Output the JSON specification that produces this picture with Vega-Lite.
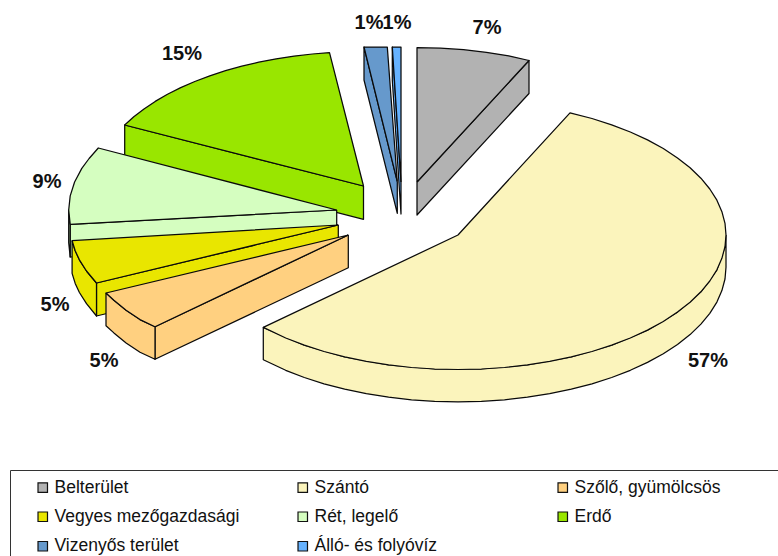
{
"$schema":"https://vega.github.io/schema/vega-lite/v6.json",
"width":778,"height":556,"padding":0,"autosize":{"type":"none"},"background":"white",
"config":{"view":{"stroke":null},"legend":{"gridAlign":"all"}},
"datasets":{
"szeletek":[
{"kat":"Erdő","r":"e1","i":1,"x":363.5,"y":186},{"kat":"Erdő","r":"e1","i":2,"x":124.7,"y":125},{"kat":"Erdő","r":"e1","i":3,"x":124.7,"y":158},{"kat":"Erdő","r":"e1","i":4,"x":363.5,"y":219.3},{"kat":"Erdő","r":"e1","i":5,"x":363.5,"y":186},
{"kat":"Erdő","r":"e2","i":1,"x":363.5,"y":186},{"kat":"Erdő","r":"e2","i":2,"x":124.7,"y":125},{"kat":"Erdő","r":"e2","i":3,"x":144,"y":108.9},{"kat":"Erdő","r":"e2","i":4,"x":167.5,"y":94.3},{"kat":"Erdő","r":"e2","i":5,"x":194.8,"y":81.5},{"kat":"Erdő","r":"e2","i":6,"x":225.5,"y":70.7},{"kat":"Erdő","r":"e2","i":7,"x":258.8,"y":62.2},{"kat":"Erdő","r":"e2","i":8,"x":294.1,"y":56.1},{"kat":"Erdő","r":"e2","i":9,"x":329.5,"y":52.6},{"kat":"Erdő","r":"e2","i":10,"x":363.5,"y":186},
{"kat":"Erdő","r":"e2","i":2.5,"x":133.8,"y":116.7},{"kat":"Erdő","r":"e2","i":3.5,"x":155.2,"y":101.4},{"kat":"Erdő","r":"e2","i":4.5,"x":180.7,"y":87.6},{"kat":"Erdő","r":"e2","i":5.5,"x":209.8,"y":75.8},{"kat":"Erdő","r":"e2","i":6.5,"x":241.8,"y":66.2},{"kat":"Erdő","r":"e2","i":7.5,"x":276.2,"y":58.8},{"kat":"Erdő","r":"e2","i":8.5,"x":312.4,"y":54},

{"kat":"Vizenyős terület","r":"v1","i":1,"x":397.3,"y":181.7},{"kat":"Vizenyős terület","r":"v1","i":2,"x":364,"y":47},{"kat":"Vizenyős terület","r":"v1","i":3,"x":364,"y":80},{"kat":"Vizenyős terület","r":"v1","i":4,"x":397.3,"y":213.3},{"kat":"Vizenyős terület","r":"v1","i":5,"x":397.3,"y":181.7},
{"kat":"Vizenyős terület","r":"v2","i":1,"x":397.3,"y":181.7},{"kat":"Vizenyős terület","r":"v2","i":2,"x":364,"y":47},{"kat":"Vizenyős terület","r":"v2","i":3,"x":375.5,"y":47},{"kat":"Vizenyős terület","r":"v2","i":4,"x":387.3,"y":47},{"kat":"Vizenyős terület","r":"v2","i":5,"x":397.3,"y":181.7},

{"kat":"Álló- és folyóvíz","r":"a1","i":1,"x":401,"y":182},{"kat":"Álló- és folyóvíz","r":"a1","i":2,"x":392.3,"y":47},{"kat":"Álló- és folyóvíz","r":"a1","i":3,"x":392.3,"y":80},{"kat":"Álló- és folyóvíz","r":"a1","i":4,"x":401,"y":214},{"kat":"Álló- és folyóvíz","r":"a1","i":5,"x":401,"y":182},
{"kat":"Álló- és folyóvíz","r":"a2","i":1,"x":401,"y":182},{"kat":"Álló- és folyóvíz","r":"a2","i":2,"x":392.3,"y":47},{"kat":"Álló- és folyóvíz","r":"a2","i":3,"x":401,"y":47},{"kat":"Álló- és folyóvíz","r":"a2","i":4,"x":401,"y":182},

{"kat":"Belterület","r":"b1","i":1,"x":417,"y":182},{"kat":"Belterület","r":"b1","i":2,"x":529,"y":60.5},{"kat":"Belterület","r":"b1","i":3,"x":529,"y":93.5},{"kat":"Belterület","r":"b1","i":4,"x":417,"y":215},{"kat":"Belterület","r":"b1","i":5,"x":417,"y":182},
{"kat":"Belterület","r":"b2","i":1,"x":417,"y":182},{"kat":"Belterület","r":"b2","i":2,"x":417,"y":47.7},{"kat":"Belterület","r":"b2","i":3,"x":440.4,"y":48.2},{"kat":"Belterület","r":"b2","i":4,"x":463.5,"y":49.7},{"kat":"Belterület","r":"b2","i":5,"x":486.4,"y":52.3},{"kat":"Belterület","r":"b2","i":6,"x":508.7,"y":55.8},{"kat":"Belterület","r":"b2","i":7,"x":529,"y":60.5},{"kat":"Belterület","r":"b2","i":8,"x":417,"y":182},

{"kat":"Rét, legelő","r":"r1","i":1,"x":336.7,"y":210},{"kat":"Rét, legelő","r":"r1","i":2,"x":70.2,"y":224.3},{"kat":"Rét, legelő","r":"r1","i":3,"x":70.2,"y":257},{"kat":"Rét, legelő","r":"r1","i":4,"x":336.7,"y":242.7},{"kat":"Rét, legelő","r":"r1","i":5,"x":336.7,"y":210},
{"kat":"Rét, legelő","r":"r2","i":1,"x":70.2,"y":224.3},{"kat":"Rét, legelő","r":"r2","i":2,"x":68.7,"y":210},{"kat":"Rét, legelő","r":"r2","i":3,"x":68.7,"y":242.7},{"kat":"Rét, legelő","r":"r2","i":4,"x":70.2,"y":257},{"kat":"Rét, legelő","r":"r2","i":5,"x":70.2,"y":224.3},
{"kat":"Rét, legelő","r":"r3","i":1,"x":336.7,"y":210},{"kat":"Rét, legelő","r":"r3","i":2,"x":70.2,"y":224.3},{"kat":"Rét, legelő","r":"r3","i":3,"x":68.7,"y":210},{"kat":"Rét, legelő","r":"r3","i":4,"x":70.2,"y":195.9},{"kat":"Rét, legelő","r":"r3","i":5,"x":74.6,"y":182},{"kat":"Rét, legelő","r":"r3","i":6,"x":81.8,"y":168.4},{"kat":"Rét, legelő","r":"r3","i":6.5,"x":89.1,"y":158.5},{"kat":"Rét, legelő","r":"r3","i":7,"x":98.3,"y":148},{"kat":"Rét, legelő","r":"r3","i":8,"x":336.7,"y":210},

{"kat":"Vegyes mezőgazdasági","r":"m1","i":1,"x":338.3,"y":225},{"kat":"Vegyes mezőgazdasági","r":"m1","i":2,"x":96.5,"y":283},{"kat":"Vegyes mezőgazdasági","r":"m1","i":3,"x":96.5,"y":316},{"kat":"Vegyes mezőgazdasági","r":"m1","i":4,"x":338.3,"y":257.7},{"kat":"Vegyes mezőgazdasági","r":"m1","i":5,"x":338.3,"y":225},
{"kat":"Vegyes mezőgazdasági","r":"m2","i":1,"x":72.1,"y":240.7},{"kat":"Vegyes mezőgazdasági","r":"m2","i":2,"x":75.2,"y":250.7},{"kat":"Vegyes mezőgazdasági","r":"m2","i":3,"x":79.4,"y":259.8},{"kat":"Vegyes mezőgazdasági","r":"m2","i":4,"x":86.5,"y":271},{"kat":"Vegyes mezőgazdasági","r":"m2","i":5,"x":96.5,"y":283},{"kat":"Vegyes mezőgazdasági","r":"m2","i":6,"x":96.5,"y":316},{"kat":"Vegyes mezőgazdasági","r":"m2","i":7,"x":86.5,"y":303.7},{"kat":"Vegyes mezőgazdasági","r":"m2","i":8,"x":79.4,"y":292.5},{"kat":"Vegyes mezőgazdasági","r":"m2","i":9,"x":75.2,"y":283.4},{"kat":"Vegyes mezőgazdasági","r":"m2","i":10,"x":72.1,"y":273.4},{"kat":"Vegyes mezőgazdasági","r":"m2","i":11,"x":72.1,"y":240.7},
{"kat":"Vegyes mezőgazdasági","r":"m3","i":1,"x":338.3,"y":225},{"kat":"Vegyes mezőgazdasági","r":"m3","i":2,"x":96.5,"y":283},{"kat":"Vegyes mezőgazdasági","r":"m3","i":3,"x":86.5,"y":271},{"kat":"Vegyes mezőgazdasági","r":"m3","i":4,"x":79.4,"y":259.8},{"kat":"Vegyes mezőgazdasági","r":"m3","i":5,"x":75.2,"y":250.7},{"kat":"Vegyes mezőgazdasági","r":"m3","i":6,"x":72.1,"y":240.7},{"kat":"Vegyes mezőgazdasági","r":"m3","i":7,"x":338.3,"y":225},

{"kat":"Szőlő, gyümölcsös","r":"s1","i":1,"x":348.3,"y":235},{"kat":"Szőlő, gyümölcsös","r":"s1","i":2,"x":155,"y":326.7},{"kat":"Szőlő, gyümölcsös","r":"s1","i":3,"x":155,"y":359.3},{"kat":"Szőlő, gyümölcsös","r":"s1","i":4,"x":348.3,"y":267.7},{"kat":"Szőlő, gyümölcsös","r":"s1","i":5,"x":348.3,"y":235},
{"kat":"Szőlő, gyümölcsös","r":"s2","i":1,"x":106,"y":293},{"kat":"Szőlő, gyümölcsös","r":"s2","i":2,"x":113.9,"y":300.2},{"kat":"Szőlő, gyümölcsös","r":"s2","i":3,"x":126.1,"y":310.2},{"kat":"Szőlő, gyümölcsös","r":"s2","i":4,"x":140,"y":319.6},{"kat":"Szőlő, gyümölcsös","r":"s2","i":5,"x":155,"y":326.7},{"kat":"Szőlő, gyümölcsös","r":"s2","i":6,"x":155,"y":359.3},{"kat":"Szőlő, gyümölcsös","r":"s2","i":7,"x":140,"y":352.3},{"kat":"Szőlő, gyümölcsös","r":"s2","i":8,"x":126.1,"y":342.9},{"kat":"Szőlő, gyümölcsös","r":"s2","i":9,"x":113.9,"y":332.9},{"kat":"Szőlő, gyümölcsös","r":"s2","i":10,"x":106,"y":325.7},{"kat":"Szőlő, gyümölcsös","r":"s2","i":11,"x":106,"y":293},
{"kat":"Szőlő, gyümölcsös","r":"s3","i":1,"x":348.3,"y":235},{"kat":"Szőlő, gyümölcsös","r":"s3","i":2,"x":155,"y":326.7},{"kat":"Szőlő, gyümölcsös","r":"s3","i":3,"x":140,"y":319.6},{"kat":"Szőlő, gyümölcsös","r":"s3","i":4,"x":126.1,"y":310.2},{"kat":"Szőlő, gyümölcsös","r":"s3","i":5,"x":113.9,"y":300.2},{"kat":"Szőlő, gyümölcsös","r":"s3","i":6,"x":106,"y":293},{"kat":"Szőlő, gyümölcsös","r":"s3","i":7,"x":348.3,"y":235},

{"kat":"Szántó","r":"z1","i":1,"x":726,"y":235},{"kat":"Szántó","r":"z1","i":2,"x":725,"y":246.7},{"kat":"Szántó","r":"z1","i":3,"x":716.9,"y":269.8},{"kat":"Szántó","r":"z1","i":4,"x":700.9,"y":291.8},{"kat":"Szántó","r":"z1","i":5,"x":677.5,"y":312.1},{"kat":"Szántó","r":"z1","i":6,"x":647.5,"y":330.1},{"kat":"Szántó","r":"z1","i":7,"x":611.7,"y":345.2},{"kat":"Szántó","r":"z1","i":8,"x":571.3,"y":356.9},{"kat":"Szántó","r":"z1","i":9,"x":527.4,"y":364.9},{"kat":"Szántó","r":"z1","i":10,"x":481.4,"y":369},{"kat":"Szántó","r":"z1","i":11,"x":434.6,"y":369},{"kat":"Szántó","r":"z1","i":12,"x":388.6,"y":364.9},{"kat":"Szántó","r":"z1","i":13,"x":344.7,"y":356.9},{"kat":"Szántó","r":"z1","i":14,"x":304.3,"y":345.2},{"kat":"Szántó","r":"z1","i":15,"x":263.3,"y":327.4},
{"kat":"Szántó","r":"z1","i":16,"x":263.3,"y":359.7},{"kat":"Szántó","r":"z1","i":17,"x":304.3,"y":377.5},{"kat":"Szántó","r":"z1","i":18,"x":344.7,"y":389.2},{"kat":"Szántó","r":"z1","i":19,"x":388.6,"y":397.2},{"kat":"Szántó","r":"z1","i":20,"x":434.6,"y":401.3},{"kat":"Szántó","r":"z1","i":21,"x":481.4,"y":401.3},{"kat":"Szántó","r":"z1","i":22,"x":527.4,"y":397.2},{"kat":"Szántó","r":"z1","i":23,"x":571.3,"y":389.2},{"kat":"Szántó","r":"z1","i":24,"x":611.7,"y":377.5},{"kat":"Szántó","r":"z1","i":25,"x":647.5,"y":362.4},{"kat":"Szántó","r":"z1","i":26,"x":677.5,"y":344.4},{"kat":"Szántó","r":"z1","i":27,"x":700.9,"y":324.1},{"kat":"Szántó","r":"z1","i":28,"x":716.9,"y":302.1},{"kat":"Szántó","r":"z1","i":29,"x":725,"y":279},{"kat":"Szántó","r":"z1","i":30,"x":726,"y":267.3},{"kat":"Szántó","r":"z1","i":31,"x":726,"y":235},
{"kat":"Szántó","r":"z1","i":16.5,"x":285.7,"y":370.3},{"kat":"Szántó","r":"z1","i":17.5,"x":324,"y":383.8},{"kat":"Szántó","r":"z1","i":18.5,"x":366.3,"y":393.7},{"kat":"Szántó","r":"z1","i":19.5,"x":411.5,"y":399.8},{"kat":"Szántó","r":"z1","i":20.5,"x":458,"y":401.8},{"kat":"Szántó","r":"z1","i":21.5,"x":504.5,"y":399.8},{"kat":"Szántó","r":"z1","i":22.5,"x":549.7,"y":393.7},{"kat":"Szántó","r":"z1","i":23.5,"x":592,"y":383.8},{"kat":"Szántó","r":"z1","i":24.5,"x":630.3,"y":370.3},{"kat":"Szántó","r":"z1","i":25.5,"x":663.3,"y":353.8},{"kat":"Szántó","r":"z1","i":26.5,"x":690.1,"y":334.6},{"kat":"Szántó","r":"z1","i":27.5,"x":709.8,"y":313.3},{"kat":"Szántó","r":"z1","i":28.5,"x":721.9,"y":290.6},
{"kat":"Szántó","r":"z2","i":1,"x":458,"y":235},{"kat":"Szántó","r":"z2","i":2,"x":570,"y":112.8},{"kat":"Szántó","r":"z2","i":3,"x":611.7,"y":124.8},{"kat":"Szántó","r":"z2","i":4,"x":647.5,"y":139.9},{"kat":"Szántó","r":"z2","i":5,"x":677.5,"y":157.9},{"kat":"Szántó","r":"z2","i":6,"x":700.9,"y":178.2},{"kat":"Szántó","r":"z2","i":7,"x":716.9,"y":200.2},{"kat":"Szántó","r":"z2","i":8,"x":725,"y":223.3},{"kat":"Szántó","r":"z2","i":9,"x":726,"y":235},{"kat":"Szántó","r":"z2","i":10,"x":725,"y":246.7},{"kat":"Szántó","r":"z2","i":11,"x":716.9,"y":269.8},{"kat":"Szántó","r":"z2","i":12,"x":700.9,"y":291.8},{"kat":"Szántó","r":"z2","i":13,"x":677.5,"y":312.1},{"kat":"Szántó","r":"z2","i":14,"x":647.5,"y":330.1},{"kat":"Szántó","r":"z2","i":15,"x":611.7,"y":345.2},{"kat":"Szántó","r":"z2","i":16,"x":571.3,"y":356.9},{"kat":"Szántó","r":"z2","i":17,"x":527.4,"y":364.9},{"kat":"Szántó","r":"z2","i":18,"x":481.4,"y":369},{"kat":"Szántó","r":"z2","i":19,"x":434.6,"y":369},{"kat":"Szántó","r":"z2","i":20,"x":388.6,"y":364.9},{"kat":"Szántó","r":"z2","i":21,"x":344.7,"y":356.9},{"kat":"Szántó","r":"z2","i":22,"x":304.3,"y":345.2},{"kat":"Szántó","r":"z2","i":23,"x":263.3,"y":327.4},{"kat":"Szántó","r":"z2","i":24,"x":458,"y":235},
{"kat":"Szántó","r":"z2","i":2.5,"x":592,"y":118.5},{"kat":"Szántó","r":"z2","i":3.5,"x":630.3,"y":132},{"kat":"Szántó","r":"z2","i":4.5,"x":663.3,"y":148.5},{"kat":"Szántó","r":"z2","i":5.5,"x":690.1,"y":167.8},{"kat":"Szántó","r":"z2","i":6.5,"x":709.8,"y":189},{"kat":"Szántó","r":"z2","i":7.5,"x":721.9,"y":211.7},{"kat":"Szántó","r":"z2","i":10.5,"x":721.9,"y":258.3},{"kat":"Szántó","r":"z2","i":11.5,"x":709.8,"y":281},{"kat":"Szántó","r":"z2","i":12.5,"x":690.1,"y":302.3},{"kat":"Szántó","r":"z2","i":13.5,"x":663.3,"y":321.5},{"kat":"Szántó","r":"z2","i":14.5,"x":630.3,"y":338},{"kat":"Szántó","r":"z2","i":15.5,"x":592,"y":351.5},{"kat":"Szántó","r":"z2","i":16.5,"x":549.7,"y":361.4},{"kat":"Szántó","r":"z2","i":17.5,"x":504.5,"y":367.5},{"kat":"Szántó","r":"z2","i":18.5,"x":458,"y":369.5},{"kat":"Szántó","r":"z2","i":19.5,"x":411.5,"y":367.5},{"kat":"Szántó","r":"z2","i":20.5,"x":366.3,"y":361.4},{"kat":"Szántó","r":"z2","i":21.5,"x":324,"y":351.5},{"kat":"Szántó","r":"z2","i":22.5,"x":285.7,"y":338}
],
"feliratok":[
{"t":"7%","x":487,"y":28},{"t":"57%","x":708,"y":361},{"t":"5%","x":104,"y":361},{"t":"5%","x":55,"y":305},{"t":"9%","x":47,"y":182},{"t":"15%","x":182,"y":54},{"t":"1%","x":369,"y":23},{"t":"1%","x":397,"y":23}
],
"keret":[{"x":10.5,"x2":800,"y":470.5,"y2":580}]
},
"encoding":{
 "x":{"field":"x","type":"quantitative","axis":null,"scale":{"domain":[0,778],"nice":false,"zero":false}},
 "y":{"field":"y","type":"quantitative","axis":null,"scale":{"domain":[556,0],"nice":false,"zero":false}}
},
"layer":[
{"data":{"name":"keret"},"mark":{"type":"rect","fill":null,"stroke":"#333333","strokeWidth":1},
 "encoding":{"x2":{"field":"x2"},"y2":{"field":"y2"}}},
{"data":{"name":"szeletek"},"mark":{"type":"line","stroke":"#0a0a0a","strokeWidth":1.25,"strokeJoin":"round"},
 "encoding":{
  "order":{"field":"i","type":"quantitative"},
  "detail":{"field":"r","type":"nominal"},
  "fill":{"field":"kat","type":"nominal",
   "scale":{"domain":["Belterület","Szántó","Szőlő, gyümölcsös","Vegyes mezőgazdasági","Rét, legelő","Erdő","Vizenyős terület","Álló- és folyóvíz"],
            "range":["#B2B2B2","#FBF4BC","#FFD080","#E9E600","#D5FEC0","#99E600","#6699CC","#66B2FF"]},
   "legend":{"orient":"none","legendX":34,"legendY":478.5,"columns":3,"direction":"horizontal","title":null,"symbolType":"square","symbolSize":90,"symbolStrokeColor":"#111111","symbolStrokeWidth":1.2,"labelFont":"Liberation Sans","labelFontSize":17.5,"labelColor":"#111111","labelOffset":3,"rowPadding":10.5,"columnPadding":54,"labelLimit":400,"padding":0}}
 }},
{"data":{"name":"feliratok"},"mark":{"type":"text","font":"Liberation Sans","fontWeight":"bold","fontSize":20,"color":"#111111","baseline":"middle","align":"center"},
 "encoding":{"text":{"field":"t","type":"nominal"}}}
]
}
